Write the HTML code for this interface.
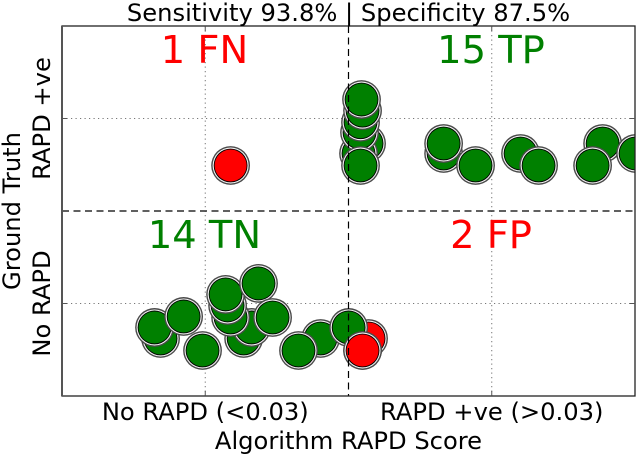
<!DOCTYPE html>
<html>
<head>
<meta charset="utf-8">
<title>RAPD chart</title>
<style>
html,body{margin:0;padding:0;background:#fff;}
svg{display:block;}
text{font-family:"DejaVu Sans",sans-serif;fill:#000;}
</style>
</head>
<body>
<svg id="chart" width="638" height="456" viewBox="0 0 638 456" xmlns="http://www.w3.org/2000/svg">
  <defs><clipPath id="plot-clip"><rect x="62" y="26" width="573" height="370"/></clipPath></defs>
  <rect x="0" y="0" width="638" height="456" fill="#fff"/>
  <g id="grid"></g>
  <g id="points" clip-path="url(#plot-clip)"></g>
  <g id="dividers"></g>
  <rect x="62" y="26" width="573" height="370" fill="none" stroke="#222" stroke-width="1.3"/>
  <line x1="62" y1="26" x2="62" y2="396" stroke="#555" stroke-width="2"/>
  <g id="ticks"></g>
  <text x="348.5" y="21" text-anchor="middle" font-size="24.2">Sensitivity 93.8% | Specificity 87.5%</text>
  <text x="204.5" y="63" text-anchor="middle" font-size="38.4" style="fill:#ff0000">1 FN</text>
  <text x="491" y="63" text-anchor="middle" font-size="38.4" style="fill:#008000">15 TP</text>
  <text x="204.5" y="248" text-anchor="middle" font-size="38.4" style="fill:#008000">14 TN</text>
  <text x="491" y="248" text-anchor="middle" font-size="38.4" style="fill:#ff0000">2 FP</text>
  <g id="tick-labels"></g>
  <text x="348.5" y="449" text-anchor="middle" font-size="24.2">Algorithm RAPD Score</text>
  <text transform="translate(20,211) rotate(-90)" text-anchor="middle" font-size="24.2">Ground Truth</text>
</svg>
<script>
var xTickValues = [1, 3];
var yTickValues = [1, 3];
var xTickLabels = ["No RAPD (<0.03)", "RAPD +ve (>0.03)"];
var yTickLabels = ["No RAPD", "RAPD +ve"];
var xThreshold = 2;
var yThreshold = 2;

var tnX = [0.688, 0.646, 0.849, 0.981, 1.268, 1.323, 1.177, 1.156, 1.142, 1.372, 1.470, 1.805, 1.651, 2.001];
var tnY = [0.622, 0.741, 0.860, 0.492, 0.622, 0.741, 0.849, 0.979, 1.098, 1.217, 0.849, 0.622, 0.492, 0.741];
var fpX = [2.140, 2.098];
var fpY = [0.622, 0.492];
var fnX = [1.177];
var fnY = [2.492];
var tpX = [2.126, 2.070, 2.077, 2.084, 2.098, 2.091, 2.084, 2.664, 2.664, 2.887, 3.201, 3.327, 3.774, 4.004, 3.704];
var tpY = [2.730, 2.622, 2.849, 2.960, 3.085, 3.205, 2.492, 2.622, 2.730, 2.492, 2.622, 2.492, 2.730, 2.622, 2.492];

var NS = "http://www.w3.org/2000/svg";
var plotLeft = 62, plotRight = 635, plotTop = 26, plotBottom = 396;
function xScale(v) { return plotLeft + (v / 4) * (plotRight - plotLeft); }
function yScale(v) { return plotBottom - (v / 4) * (plotBottom - plotTop); }

function makeLine(parent, x1, y1, x2, y2, stroke, width, dash) {
  var l = document.createElementNS(NS, "line");
  l.setAttribute("x1", x1);
  l.setAttribute("y1", y1);
  l.setAttribute("x2", x2);
  l.setAttribute("y2", y2);
  l.setAttribute("stroke", stroke);
  l.setAttribute("stroke-width", width);
  if (dash) l.setAttribute("stroke-dasharray", dash);
  parent.appendChild(l);
  return l;
}

var grid = document.getElementById("grid");
var ticks = document.getElementById("ticks");
var labels = document.getElementById("tick-labels");

xTickValues.forEach(function (v, i) {
  var px = xScale(v);
  var g = makeLine(grid, px, plotTop, px, plotBottom, "#777", 1, "1.2 3.3");
  
  
  var t1 = makeLine(ticks, px, plotBottom, px, plotBottom - 5, "#555", 1);
  
  
  var t2 = makeLine(ticks, px, plotTop, px, plotTop + 5, "#555", 1);
  
  
  var t = document.createElementNS(NS, "text");
  t.setAttribute("x", px);
  t.setAttribute("y", 420);
  t.setAttribute("text-anchor", "middle");
  t.setAttribute("font-size", "24.2");
  t.textContent = xTickLabels[i];
  
  
  labels.appendChild(t);
});

yTickValues.forEach(function (v, i) {
  var py = yScale(v);
  var g = makeLine(grid, plotLeft, py, plotRight, py, "#777", 1, "1.2 3.3");
  
  
  var t1 = makeLine(ticks, plotLeft, py, plotLeft + 5, py, "#555", 1);
  
  
  var t2 = makeLine(ticks, plotRight, py, plotRight - 5, py, "#555", 1);
  
  
  var t = document.createElementNS(NS, "text");
  t.setAttribute("transform", "translate(50," + py + ") rotate(-90)");
  t.setAttribute("text-anchor", "middle");
  t.setAttribute("font-size", "24.2");
  t.textContent = yTickLabels[i];
  
  
  labels.appendChild(t);
});

var dividers = document.getElementById("dividers");
var vDivider = makeLine(dividers, xScale(xThreshold), plotTop, xScale(xThreshold), plotBottom, "#000", 1.2, "7 4.5");


var hDivider = makeLine(dividers, plotLeft, yScale(yThreshold), plotRight, yScale(yThreshold), "#000", 1.2, "7 4.5");



var pointsLayer = document.getElementById("points");
function drawPoint(xv, yv, color, name) {
  var g = document.createElementNS(NS, "g");
  
  
  var cx = xScale(xv), cy = yScale(yv);
  var rings = [[19.4, "#4a4a4a"], [18.0, "#f4f4f4"], [16.9, "#000"], [16.0, color]];
  rings.forEach(function (r) {
    var c = document.createElementNS(NS, "circle");
    c.setAttribute("cx", cx);
    c.setAttribute("cy", cy);
    c.setAttribute("r", r[0]);
    c.setAttribute("fill", r[1]);
    g.appendChild(c);
  });
  pointsLayer.appendChild(g);
}
fpX.forEach(function (v, i) { drawPoint(v, fpY[i], "#ff0000", "false-positive-point"); });
tnX.forEach(function (v, i) { drawPoint(v, tnY[i], "#008000", "true-negative-point"); });
// the front false-positive sits above the true negatives in the reference
drawPoint(fpX[1], fpY[1], "#ff0000", "false-positive-point");
fnX.forEach(function (v, i) { drawPoint(v, fnY[i], "#ff0000", "false-negative-point"); });
tpX.forEach(function (v, i) { drawPoint(v, tpY[i], "#008000", "true-positive-point"); });
</script>
</body>
</html>
